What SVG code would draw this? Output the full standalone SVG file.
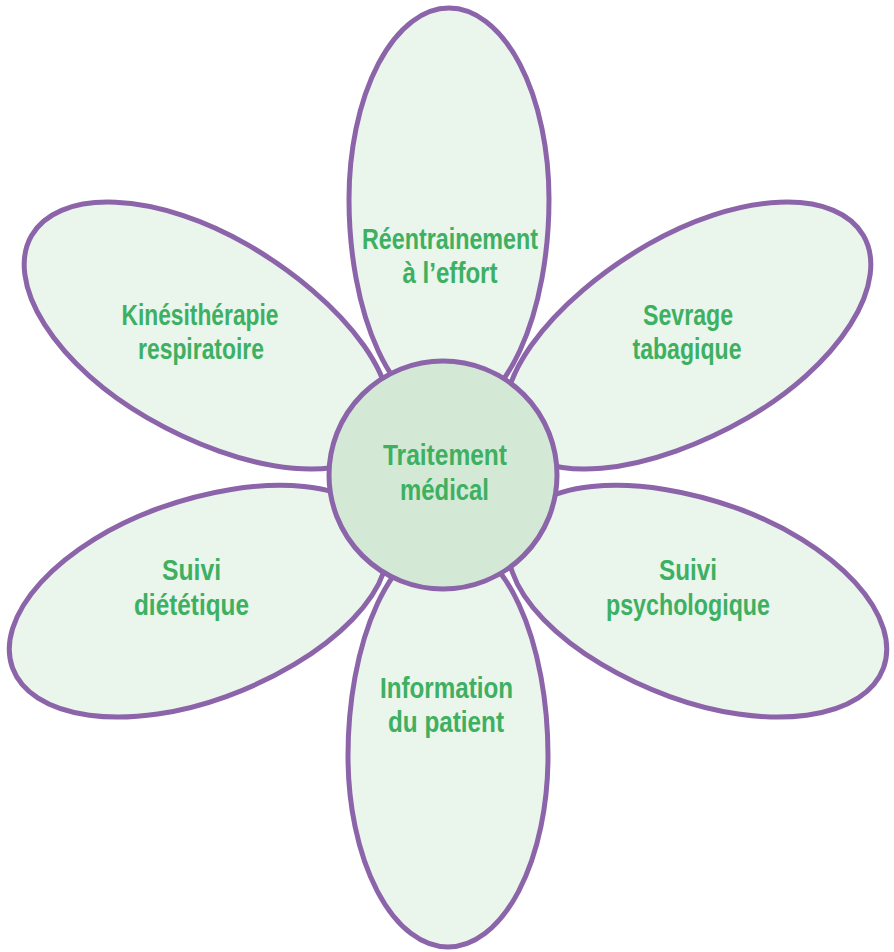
<svg xmlns="http://www.w3.org/2000/svg" width="894" height="952" viewBox="0 0 894 952">
<defs>
<style>
.petal{fill:#eaf5ec;stroke:#8c64aa;stroke-width:5}
.core{fill:#d3e9d5;stroke:#8c64aa;stroke-width:5}
.lbl{font-family:"Liberation Sans","Arial",sans-serif;font-weight:bold;font-size:29px;fill:#3db062;text-anchor:middle}
</style>
<path id="egg" d="M -100,0 A 100 191 0 0 1 100,0 A 100 215 0 0 1 -100,0 Z"/>
<path id="egg2" d="M -100,0 A 100 191 0 0 1 100,0 A 100 205 0 0 1 -100,0 Z"/>
</defs>
<rect width="894" height="952" fill="#ffffff"/>
<g id="node-reentrainement">
<use href="#egg" class="petal" transform="translate(449,199)"/>
<text class="lbl" x="450" y="249" textLength="176" lengthAdjust="spacingAndGlyphs">Réentrainement</text>
<text class="lbl" x="450" y="283" textLength="95" lengthAdjust="spacingAndGlyphs">à l’effort</text>
</g>
<g id="node-kinesitherapie">
<use href="#egg" class="petal" transform="translate(197,331) rotate(-60)"/>
<text class="lbl" x="200" y="325" textLength="157" lengthAdjust="spacingAndGlyphs">Kinésithérapie</text>
<text class="lbl" x="201" y="359" textLength="126" lengthAdjust="spacingAndGlyphs">respiratoire</text>
</g>
<g id="node-sevrage">
<use href="#egg" class="petal" transform="translate(698,331) rotate(60)"/>
<text class="lbl" x="688" y="325" textLength="90" lengthAdjust="spacingAndGlyphs">Sevrage</text>
<text class="lbl" x="687" y="359" textLength="109" lengthAdjust="spacingAndGlyphs">tabagique</text>
</g>
<g id="node-dietetique">
<use href="#egg2" class="petal" transform="translate(192,602.6) rotate(-110)"/>
<text class="lbl" x="191.5" y="580" textLength="59" lengthAdjust="spacingAndGlyphs">Suivi</text>
<text class="lbl" x="191.5" y="615" textLength="115" lengthAdjust="spacingAndGlyphs">diététique</text>
</g>
<g id="node-psychologique">
<use href="#egg2" class="petal" transform="translate(704,602.6) rotate(110)"/>
<text class="lbl" x="688" y="580" textLength="58" lengthAdjust="spacingAndGlyphs">Suivi</text>
<text class="lbl" x="688" y="615" textLength="164" lengthAdjust="spacingAndGlyphs">psychologique</text>
</g>
<g id="node-information">
<use href="#egg" class="petal" transform="translate(448,756) rotate(180)"/>
<text class="lbl" x="446.5" y="698" textLength="133" lengthAdjust="spacingAndGlyphs">Information</text>
<text class="lbl" x="446" y="732" textLength="116" lengthAdjust="spacingAndGlyphs">du patient</text>
</g>
<g id="node-traitement">
<circle class="core" cx="443" cy="475" r="114"/>
<text class="lbl" x="445" y="465" textLength="124" lengthAdjust="spacingAndGlyphs">Traitement</text>
<text class="lbl" x="444.5" y="500" textLength="89" lengthAdjust="spacingAndGlyphs">médical</text>
</g>
</svg>
